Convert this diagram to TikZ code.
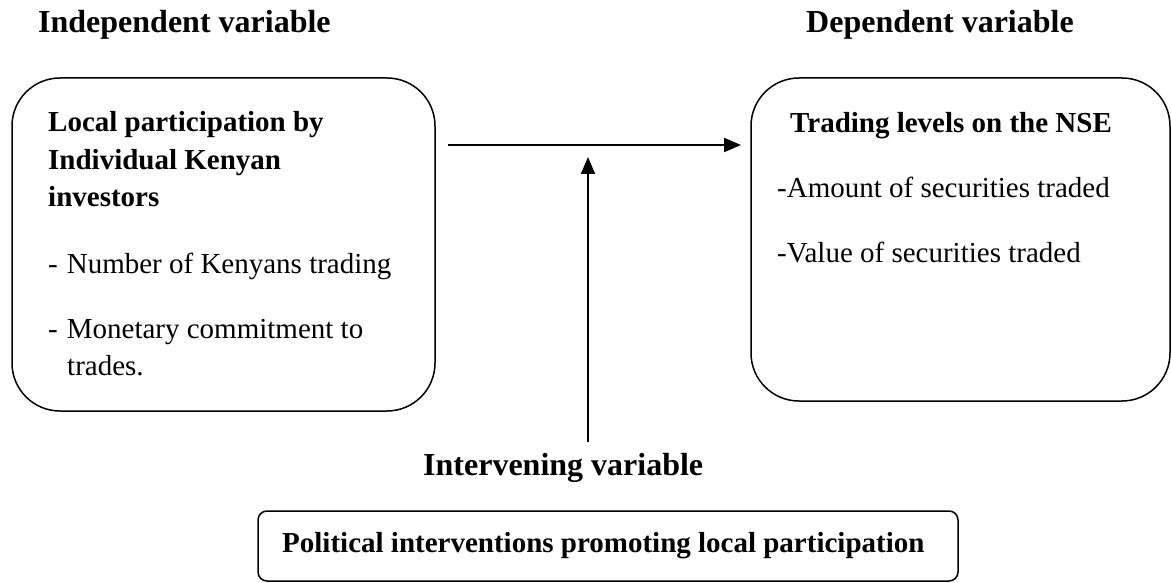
\documentclass[tikz,border=0pt]{standalone}
\usepackage{fontspec}
\setmainfont{Liberation Serif}
\usetikzlibrary{arrows.meta}
\begin{document}
\begin{tikzpicture}[x=1pt,y=-1pt,
  bigbox/.style={draw, line width=1.5pt, rounded corners=48pt, inner sep=0pt},
  smallbox/.style={draw, line width=1.5pt, rounded corners=9pt, inner sep=0pt},
  txt/.style={anchor=base west, inner sep=0pt, font=\fontsize{29}{35}\selectfont},
  btxt/.style={anchor=base west, inner sep=0pt, font=\fontsize{29}{35}\selectfont\bfseries},
  head/.style={anchor=base west, inner sep=0pt, font=\fontsize{32}{38}\selectfont\bfseries},
  conn/.style={line width=2pt, -{Triangle[length=17pt,width=14pt]}}]
\useasboundingbox (0,0) rectangle (1171,583);

% headers
\node[head] (hind) at (38,33) {Independent variable};
\node[head] (hdep) at (806,33) {Dependent variable};

% left box
\node[bigbox, minimum width=423pt, minimum height=333pt] (L) at (223.5,244.5) {};
\node[btxt] (l1) at (48,132) {Local participation by};
\node[btxt] (l2) at (48,170) {Individual Kenyan};
\node[btxt] (l3) at (48,207) {investors};
\node[txt] (l4) at (48,273) {-\hspace{9pt}Number of Kenyans trading};
\node[txt] (l5) at (48,338) {-\hspace{9pt}Monetary commitment to};
\node[txt] (l6) at (67,375) {trades.};

% right box
\node[bigbox, minimum width=419pt, minimum height=323pt] (R) at (960.5,239.5) {};
\node[btxt] (r1) at (790,133) {Trading levels on the NSE};
\node[txt] (r2) at (777,198) {-Amount of securities traded};
\node[txt] (r3) at (777,262) {-Value of securities traded};

% intervening
\node[head] (iv) at (423,475) {Intervening variable};
\node[smallbox, minimum width=700pt, minimum height=70pt] (B) at (608,546) {};
\node[btxt] (b1) at (282,552) {Political interventions promoting local participation};

% connectors
\coordinate (hs) at (448,145);
\coordinate (he) at (741,145);
\coordinate (vs) at (588,442);
\coordinate (ve) at (588,157);
\draw[conn] (hs) -- (he);
\draw[conn] (vs) -- (ve);
\end{tikzpicture}
\end{document}
